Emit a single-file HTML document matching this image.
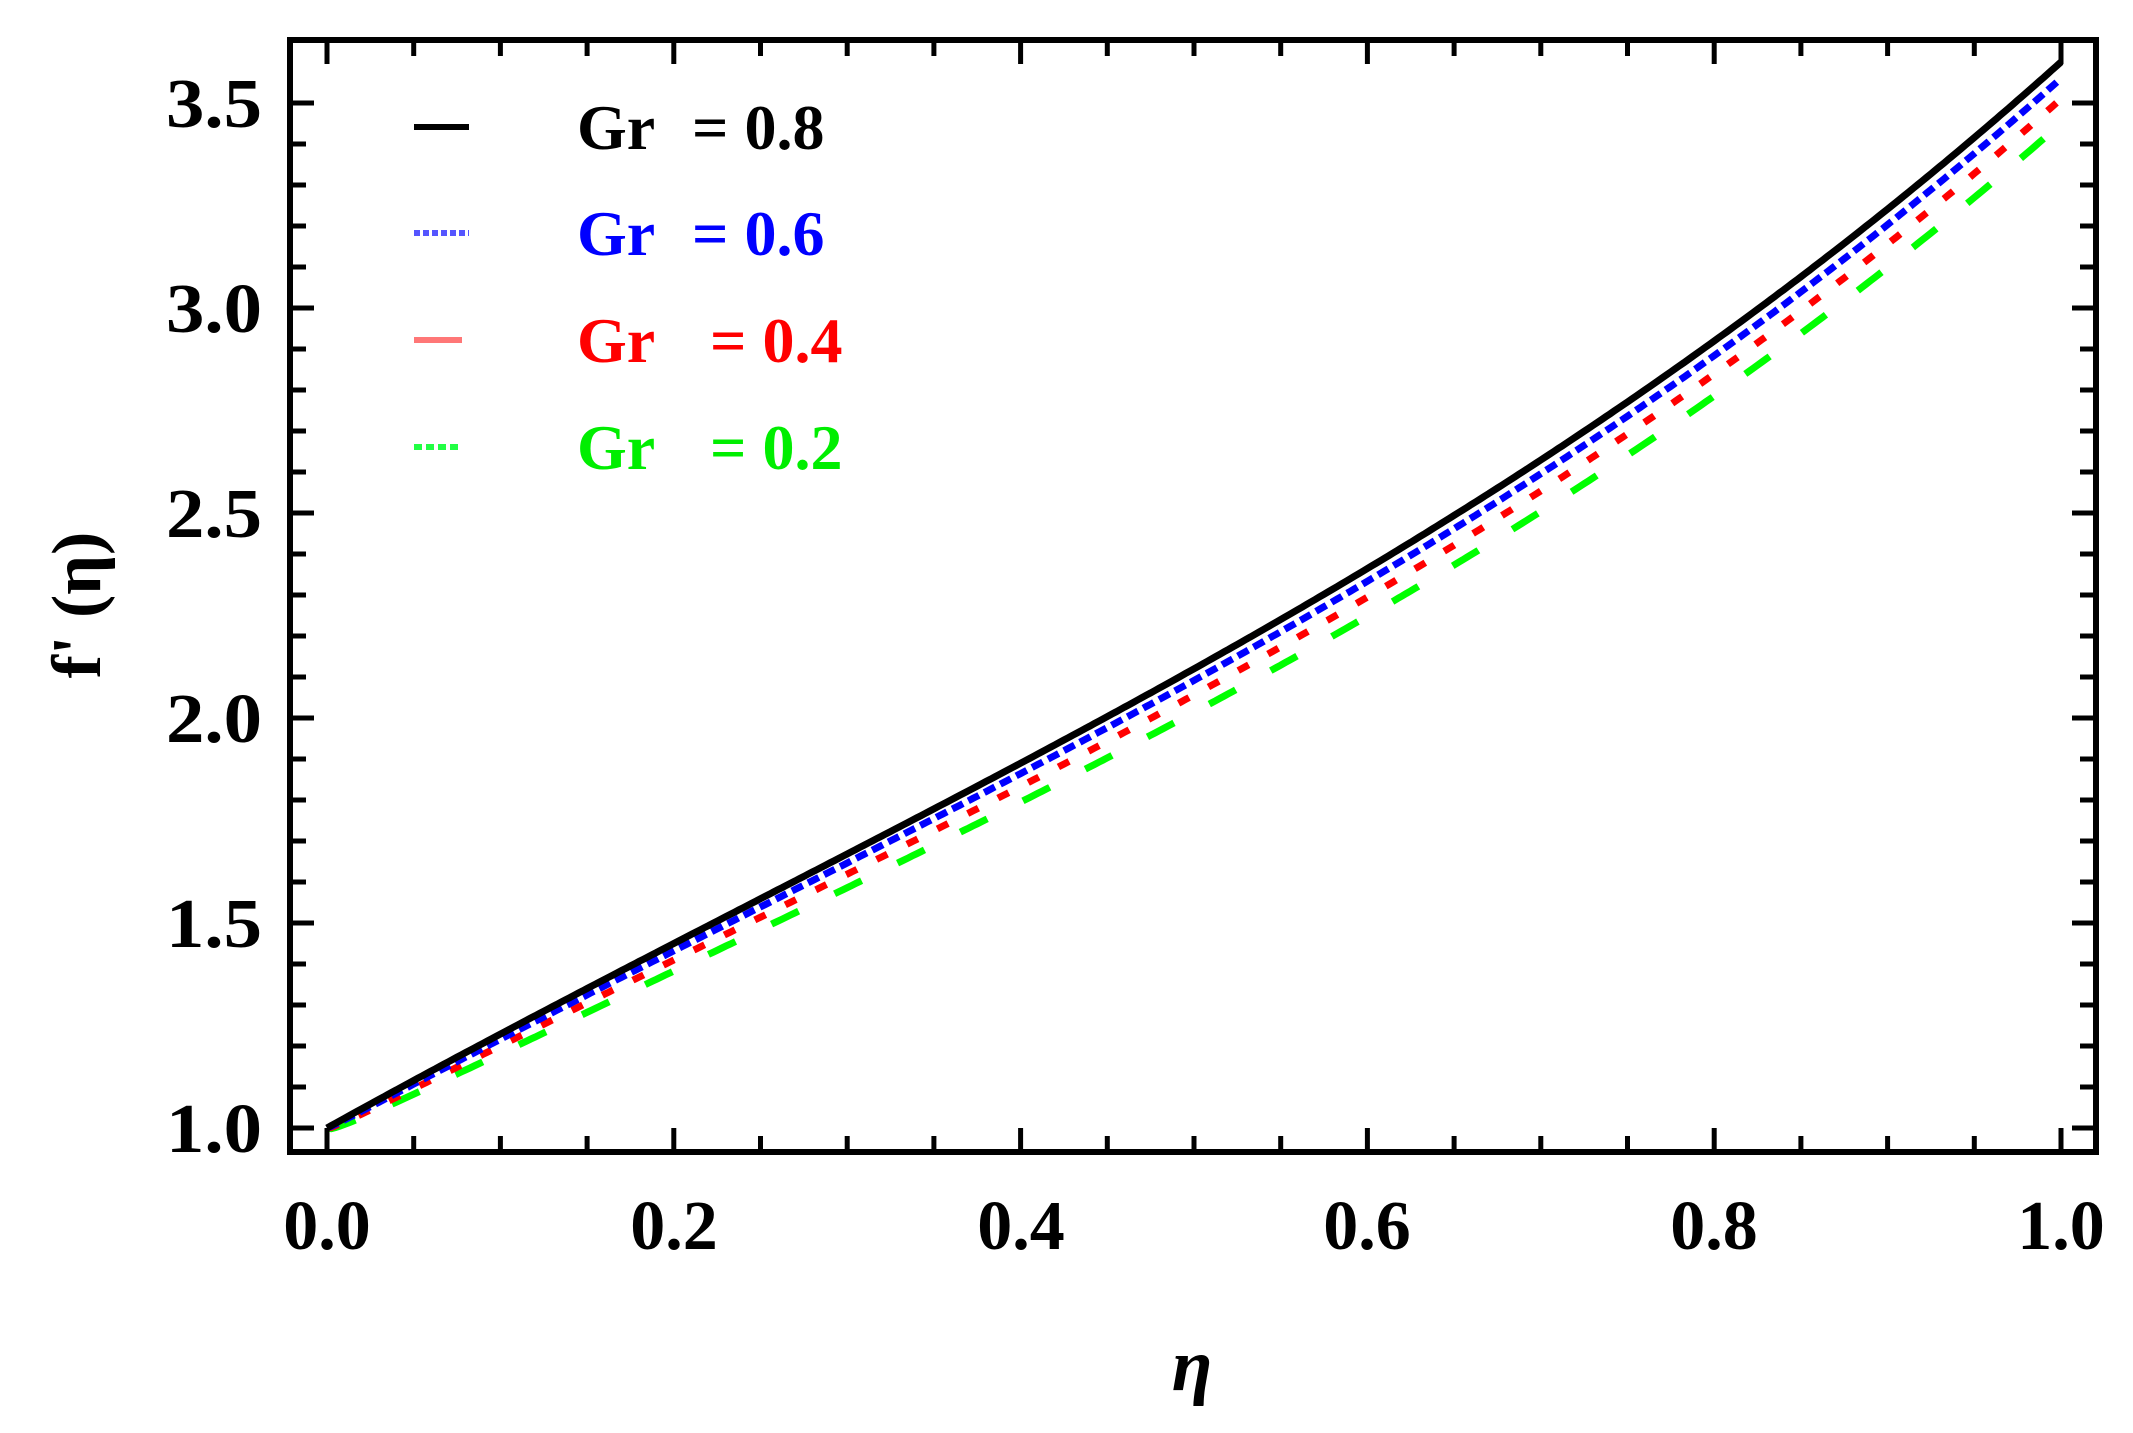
<!DOCTYPE html>
<html><head><meta charset="utf-8"><style>
html,body{margin:0;padding:0;background:#fff;}
svg{display:block;}
text{font-family:"Liberation Serif",serif;font-weight:bold;}
</style></head><body>
<svg id="s" width="2133" height="1433" viewBox="0 0 2133 1433" xmlns="http://www.w3.org/2000/svg">
<rect width="2133" height="1433" fill="#fff"/>
<g id="curves" fill="none" stroke-width="7"></g>
<rect x="290" y="40" width="1806" height="1112" fill="none" stroke="#000" stroke-width="6"/>
<g id="ticks" stroke="#000" stroke-width="5"></g>
<g font-size="70" text-anchor="end" fill="#000">
<text x="262" y="1152" textLength="96" lengthAdjust="spacingAndGlyphs">1.0</text>
<text x="262" y="947" textLength="96" lengthAdjust="spacingAndGlyphs">1.5</text>
<text x="262" y="742" textLength="96" lengthAdjust="spacingAndGlyphs">2.0</text>
<text x="262" y="537" textLength="96" lengthAdjust="spacingAndGlyphs">2.5</text>
<text x="262" y="332" textLength="96" lengthAdjust="spacingAndGlyphs">3.0</text>
<text x="262" y="127" textLength="96" lengthAdjust="spacingAndGlyphs">3.5</text>
</g>
<g font-size="70" text-anchor="middle" fill="#000">
<text x="327" y="1249">0.0</text>
<text x="674" y="1249">0.2</text>
<text x="1021" y="1249">0.4</text>
<text x="1367" y="1249">0.6</text>
<text x="1714" y="1249">0.8</text>
<text x="2061" y="1249">1.0</text>
</g>
<text x="1192" y="1390" font-size="74" font-style="italic" text-anchor="middle">η</text>
<text transform="translate(100,605) rotate(-90)" font-size="70" text-anchor="middle">f' (η)</text>
<g stroke-width="6">
<line x1="414" y1="127" x2="469" y2="127" stroke="#000"/>
<line x1="414" y1="233" x2="469" y2="233" stroke="#55f" stroke-dasharray="6 3"/>
<line x1="414" y1="340" x2="462" y2="340" stroke="#f77"/>
<line x1="414" y1="447" x2="462" y2="447" stroke="#2f4" stroke-dasharray="8 4"/>
</g>
<g font-size="64">
<text x="577" y="149" fill="#000">Gr <tspan dx="22">= 0.8</tspan></text>
<text x="577" y="255" fill="#00f">Gr <tspan dx="22">= 0.6</tspan></text>
<text x="577" y="362" fill="#f00">Gr <tspan dx="40">= 0.4</tspan></text>
<text x="577" y="469" fill="#0e0">Gr <tspan dx="40">= 0.2</tspan></text>
</g>
</svg>
<script>
var NS="http://www.w3.org/2000/svg";
function X(e){return 327+1734*e;}
function Y(v){return 1128-(v-1)*410;}
function f(e){return 2.351*e-0.693*e*e+0.942*e*e*e;}
var series=[[0,"#000",""],[0.04,"#00f","12 6"],[0.09,"#f00","12 22"],[0.15,"#0f0","30 40"]];
var g=document.getElementById("curves");
for(var k=series.length-1;k>=0;k--){var s=series[k];var d="";
for(var i=0;i<=400;i++){var e=i/400;d+=(i?"L":"M")+X(e).toFixed(1)+" "+Y(1+f(e)-s[0]*Math.pow(e,0.5)).toFixed(1);}
var p=document.createElementNS(NS,"path");p.setAttribute("d",d);p.setAttribute("stroke",s[1]);
if(s[2])p.setAttribute("stroke-dasharray",s[2]);g.appendChild(p);}
var t=document.getElementById("ticks");
function L(a,b,c,d){var l=document.createElementNS(NS,"line");l.setAttribute("x1",a);l.setAttribute("y1",b);l.setAttribute("x2",c);l.setAttribute("y2",d);t.appendChild(l);}
for(var i=0;i<=20;i++){var x=X(i*0.05);var len=(i%4==0)?22:14;L(x,1150,x,1150-len);L(x,42,x,42+len);}
for(var j=0;j<=26;j++){var v=0.9+j*0.1;var y=Y(v);if(y<45||y>1150)continue;var m=Math.abs((v*10)%5)<0.01||Math.abs((v*10)%5-5)<0.01;var len=m?22:14;L(292,y,292+len,y);L(2094,y,2094-len,y);}
</script>
</body></html>
